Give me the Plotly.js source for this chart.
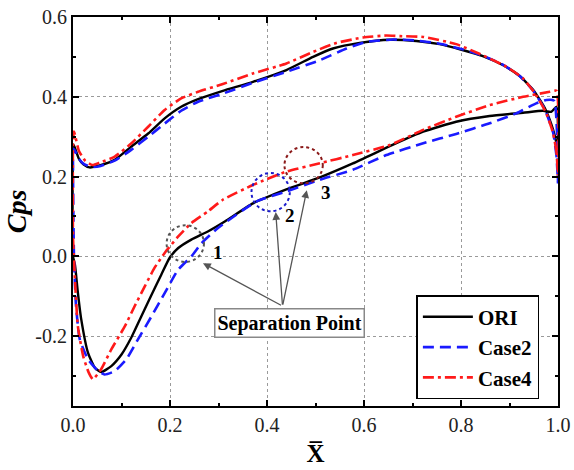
<!DOCTYPE html>
<html>
<head>
<meta charset="utf-8">
<script src="https://cdn.plot.ly/plotly-3.0.1.min.js"></script>
<style>html,body{margin:0;padding:0;background:#fff;}#chart{width:574px;height:470px;}</style>
</head>
<body>
<div id="chart"></div>
<script>
// ORI: upper surface from trailing edge to leading edge, then lower surface back to trailing edge
const oriX = [1.0, 0.997, 0.99, 0.973, 0.949, 0.921, 0.887, 0.845, 0.801, 0.756, 0.708, 0.653, 0.591, 0.536, 0.495, 0.44, 0.371, 0.309, 0.258, 0.223, 0.189, 0.155, 0.12, 0.086, 0.055, 0.034, 0.022, 0.012, 0.004, 0.001, 0.0,
              0.0, 0.004, 0.01, 0.017, 0.031, 0.045, 0.058, 0.079, 0.1, 0.12, 0.141, 0.162, 0.182, 0.199, 0.217, 0.244, 0.278, 0.313, 0.371, 0.44, 0.509, 0.577, 0.66, 0.722, 0.79, 0.859, 0.928, 0.969, 0.986, 0.997, 1.0];
const oriY = [0.26, 0.283, 0.317, 0.371, 0.417, 0.452, 0.479, 0.502, 0.518, 0.532, 0.54, 0.543, 0.535, 0.521, 0.5, 0.467, 0.4375, 0.415, 0.394, 0.375, 0.346, 0.308, 0.275, 0.242, 0.228, 0.223, 0.23, 0.245, 0.272, 0.28, 0.27,
              0.0, -0.021, -0.09, -0.158, -0.242, -0.279, -0.29, -0.275, -0.246, -0.204, -0.15, -0.096, -0.046, -0.004, 0.021, 0.042, 0.0625, 0.0875, 0.133, 0.168, 0.198, 0.233, 0.28, 0.3125, 0.3375, 0.352, 0.36, 0.365, 0.3625, 0.375, 0.26];

const case2X = [1.0, 0.997, 0.99, 0.973, 0.949, 0.921, 0.887, 0.845, 0.801, 0.756, 0.708, 0.66, 0.605, 0.564, 0.509, 0.44, 0.371, 0.309, 0.258, 0.223, 0.189, 0.155, 0.12, 0.086, 0.055, 0.038, 0.022, 0.012, 0.004, 0.001, 0.0,
                0.002, 0.006, 0.014, 0.031, 0.052, 0.065, 0.086, 0.11, 0.134, 0.162, 0.189, 0.217, 0.244, 0.265, 0.299, 0.378, 0.44, 0.509, 0.577, 0.646, 0.722, 0.79, 0.859, 0.914, 0.955, 0.976, 0.992, 1.0];
const case2Y = [0.183, 0.25, 0.31, 0.368, 0.415, 0.452, 0.48, 0.503, 0.52, 0.533, 0.541, 0.5435, 0.5375, 0.521, 0.4917, 0.4625, 0.435, 0.408, 0.3875, 0.365, 0.333, 0.30, 0.267, 0.24, 0.226, 0.224, 0.232, 0.245, 0.265, 0.27, 0.25,
                0.0, -0.12, -0.208, -0.258, -0.2875, -0.296, -0.2875, -0.258, -0.208, -0.15, -0.092, -0.033, 0.0, 0.033, 0.071, 0.1375, 0.1625, 0.192, 0.217, 0.254, 0.2835, 0.307, 0.3335, 0.3585, 0.3835, 0.392, 0.39, 0.183];

const case4X = [1.0, 0.997, 0.99, 0.976, 0.955, 0.928, 0.894, 0.845, 0.79, 0.722, 0.674, 0.646, 0.598, 0.543, 0.495, 0.44, 0.371, 0.309, 0.258, 0.223, 0.189, 0.155, 0.12, 0.086, 0.055, 0.04, 0.025, 0.012, 0.005, 0.002, 0.0,
                0.0, 0.004, 0.01, 0.021, 0.032, 0.041, 0.058, 0.079, 0.107, 0.127, 0.148, 0.168, 0.189, 0.217, 0.244, 0.278, 0.309, 0.371, 0.44, 0.509, 0.577, 0.653, 0.722, 0.79, 0.859, 0.928, 0.983, 0.997, 1.0];
const case4Y = [0.2, 0.26, 0.3085, 0.3585, 0.404, 0.446, 0.475, 0.504, 0.532, 0.55, 0.552, 0.5535, 0.5485, 0.535, 0.5125, 0.4835, 0.4585, 0.432, 0.4125, 0.396, 0.367, 0.325, 0.283, 0.25, 0.235, 0.229, 0.24, 0.265, 0.3, 0.313, 0.28,
                0.05, -0.058, -0.175, -0.25, -0.29, -0.308, -0.283, -0.233, -0.175, -0.125, -0.075, -0.029, 0.0085, 0.05, 0.0835, 0.1125, 0.142, 0.179, 0.2125, 0.2335, 0.254, 0.279, 0.317, 0.35, 0.379, 0.4, 0.4125, 0.415, 0.2];

const seriesNames = ['ORI', 'Case2', 'Case4'];
const xTickVals = [0, 0.2, 0.4, 0.6, 0.8, 1.0];
const xTickText = ['0.0', '0.2', '0.4', '0.6', '0.8', '1.0'];
const yTickVals = [-0.2, 0, 0.2, 0.4, 0.6];
const yTickText = ['-0.2', '0.0', '0.2', '0.4', '0.6'];

const SERIF = 'Liberation Serif';

const traces = [
  {x: oriX, y: oriY, name: seriesNames[0], mode: 'lines', line: {color: '#000000', width: 2.4, shape: 'spline', smoothing: 0.5}},
  {x: case2X, y: case2Y, name: seriesNames[1], mode: 'lines', line: {color: '#1a1aff', width: 2.6, dash: '11px,6px', shape: 'spline', smoothing: 0.5}},
  {x: case4X, y: case4Y, name: seriesNames[2], mode: 'lines', line: {color: '#ff1a1a', width: 2.6, dash: '11px,4px,3px,4px', shape: 'spline', smoothing: 0.5}}
];

const axisCommon = {
  showline: true, linecolor: '#000', linewidth: 2, mirror: 'ticks',
  ticks: 'inside', ticklen: 6, tickwidth: 2, tickcolor: '#000',
  showgrid: true, gridcolor: '#9a9a9a', griddash: 'dot', gridwidth: 1,
  zeroline: false,
  tickfont: {family: SERIF, size: 20, color: '#222'},
  minor: {ticks: 'inside', ticklen: 3, tickwidth: 2, tickcolor: '#000', dtick: 0.1, showgrid: false}
};

const layout = {
  width: 574, height: 470,
  margin: {l: 73, r: 16, t: 17, b: 64},
  paper_bgcolor: '#fff', plot_bgcolor: '#fff',
  font: {family: SERIF, color: '#000'},
  showlegend: true,
  legend: {
    x: 0.708, y: 0.285, xanchor: 'left', yanchor: 'top',
    bgcolor: '#fff', bordercolor: '#000', borderwidth: 1.5,
    font: {family: SERIF, size: 21, color: '#000', weight: 'bold'},
    itemwidth: 50
  },
  xaxis: Object.assign({}, axisCommon, {
    range: [0, 1], tickvals: xTickVals, ticktext: xTickText,
    title: {text: '<b>X\u0305</b>', font: {family: SERIF, size: 25, color: '#000'}, standoff: 9}
  }),
  yaxis: Object.assign({}, axisCommon, {
    range: [-0.375, 0.6], tickvals: yTickVals, ticktext: yTickText,
    title: {text: '<b><i>Cps</i></b>', font: {family: SERIF, size: 28, color: '#000'}, standoff: 1}
  }),
  shapes: [
    {type: 'circle', xref: 'x', yref: 'y', x0: 0.193, x1: 0.270, y0: -0.014, y1: 0.078, line: {color: '#555555', width: 2, dash: 'dot'}},
    {type: 'circle', xref: 'x', yref: 'y', x0: 0.368, x1: 0.447, y0: 0.113, y1: 0.209, line: {color: '#1a1acc', width: 2, dash: 'dot'}},
    {type: 'circle', xref: 'x', yref: 'y', x0: 0.436, x1: 0.515, y0: 0.183, y1: 0.274, line: {color: '#8b1a1a', width: 2, dash: 'dot'}}
  ],
  annotations: [
    {x: 0.268, y: -0.017, ax: 0.432, ay: -0.1245, axref: 'x', ayref: 'y', xref: 'x', yref: 'y', text: '', showarrow: true, arrowhead: 2, arrowsize: 1.2, arrowwidth: 1.3, arrowcolor: '#555'},
    {x: 0.418, y: 0.111, ax: 0.432, ay: -0.1245, axref: 'x', ayref: 'y', xref: 'x', yref: 'y', text: '', showarrow: true, arrowhead: 2, arrowsize: 1.2, arrowwidth: 1.3, arrowcolor: '#555'},
    {x: 0.482, y: 0.166, ax: 0.432, ay: -0.1245, axref: 'x', ayref: 'y', xref: 'x', yref: 'y', text: '', showarrow: true, arrowhead: 2, arrowsize: 1.2, arrowwidth: 1.3, arrowcolor: '#555'},
    {x: 0.4466, y: -0.167, xref: 'x', yref: 'y', text: '<b>Separation Point</b>', showarrow: false,
     font: {family: SERIF, size: 20, color: '#000'}, bgcolor: '#fff', bordercolor: '#888', borderwidth: 1.5, borderpad: 2},
    {x: 0.299, y: 0.011, xref: 'x', yref: 'y', text: '<b>1</b>', showarrow: false, font: {family: SERIF, size: 19, color: '#000'}},
    {x: 0.447, y: 0.103, xref: 'x', yref: 'y', text: '<b>2</b>', showarrow: false, font: {family: SERIF, size: 19, color: '#000'}},
    {x: 0.521, y: 0.161, xref: 'x', yref: 'y', text: '<b>3</b>', showarrow: false, font: {family: SERIF, size: 19, color: '#000'}}
  ]
};

Plotly.newPlot('chart', traces, layout, {staticPlot: true, displayModeBar: false});
</script>
</body>
</html>
